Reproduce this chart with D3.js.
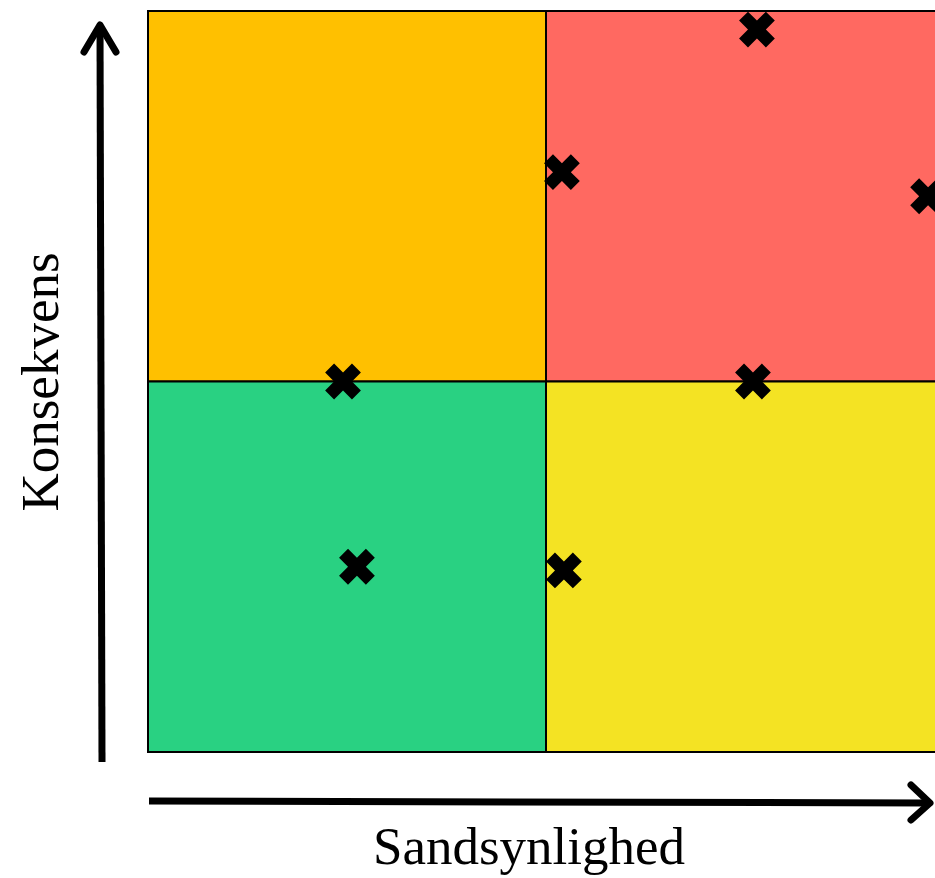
<!DOCTYPE html>
<html>
<head>
<meta charset="utf-8">
<script src="https://cdn.jsdelivr.net/npm/d3@7"></script>
<style>
  body { margin: 0; background: #fff; overflow: hidden; }
</style>
</head>
<body>
<div id="chart"></div>
<script>
// risk matrix data
var cells = [
    {col: 0, row: 1, color: "#FFC000"},   // low prob, high cons
    {col: 1, row: 1, color: "#FF6961"},   // high prob, high cons
    {col: 0, row: 0, color: "#29D182"},   // low, low
    {col: 1, row: 0, color: "#F4E323"}    // high prob, low cons
];
var riskX = [1.53, 1.04, 1.96, 0.49, 1.52, 0.525, 1.045];
var riskY = [1.95, 1.565, 1.50, 1.0, 1.0, 0.50, 0.49];
var xLabel = "Sandsynlighed";
var yLabel = "Konsekvens";

const W = 935, H = 878;
const plot = {left: 148, right: 944, top: 11, bottom: 752};

var xScale = d3.scaleLinear().domain([0, 2]).range([plot.left, plot.right]);
var yScale = d3.scaleLinear().domain([0, 2]).range([plot.bottom, plot.top]);

var svg = d3.select("#chart").append("svg")
    .attr("width", W)
    .attr("height", H);

// quadrants
svg.selectAll(".cell").data(cells)
    .enter().append("rect")
    .attr("class", "cell")
    .attr("x", function(d) { return xScale(d.col); })
    .attr("y", function(d) { return yScale(d.row + 1); })
    .attr("width", function(d) { return xScale(d.col + 1) - xScale(d.col); })
    .attr("height", function(d) { return yScale(d.row) - yScale(d.row + 1); })
    .attr("fill", function(d) { return d.color; })
    .attr("stroke", "#000")
    .attr("stroke-width", 2);

// crosses
var cross = d3.symbol().type(d3.symbolCross).size(800);
svg.selectAll(".risk").data(riskX)
    .enter().append("path")
    .attr("class", "risk")
    .attr("d", cross)
    .attr("fill", "#000")
    .attr("transform", function(d, i) {
        return "translate(" + xScale(d) + "," + yScale(riskY[i]) + ") rotate(45)";
    });

// axis arrows
var arrows = svg.append("g")
    .attr("fill", "none")
    .attr("stroke", "#000")
    .attr("stroke-width", 7)
    .attr("stroke-linejoin", "round");

arrows.append("line")
    .attr("x1", 102).attr("y1", 762)
    .attr("x2", 100).attr("y2", 26)
    .attr("stroke-linecap", "butt");
arrows.append("path")
    .attr("d", "M84,52 L100,25 L116,52")
    .attr("stroke-linecap", "round");

arrows.append("line")
    .attr("x1", 149).attr("y1", 801)
    .attr("x2", 928).attr("y2", 803)
    .attr("stroke-linecap", "butt");
arrows.append("path")
    .attr("d", "M911,785 L930,803 L911,820")
    .attr("stroke-linecap", "round");

// labels
svg.append("text")
    .attr("x", 529)
    .attr("y", 864)
    .attr("text-anchor", "middle")
    .attr("font-family", "Liberation Serif, Times New Roman, serif")
    .attr("font-size", 53)
    .text(xLabel);

svg.append("text")
    .attr("transform", "translate(58,382) rotate(-90)")
    .attr("text-anchor", "middle")
    .attr("font-family", "Liberation Serif, Times New Roman, serif")
    .attr("font-size", 53)
    .text(yLabel);
</script>
</body>
</html>
